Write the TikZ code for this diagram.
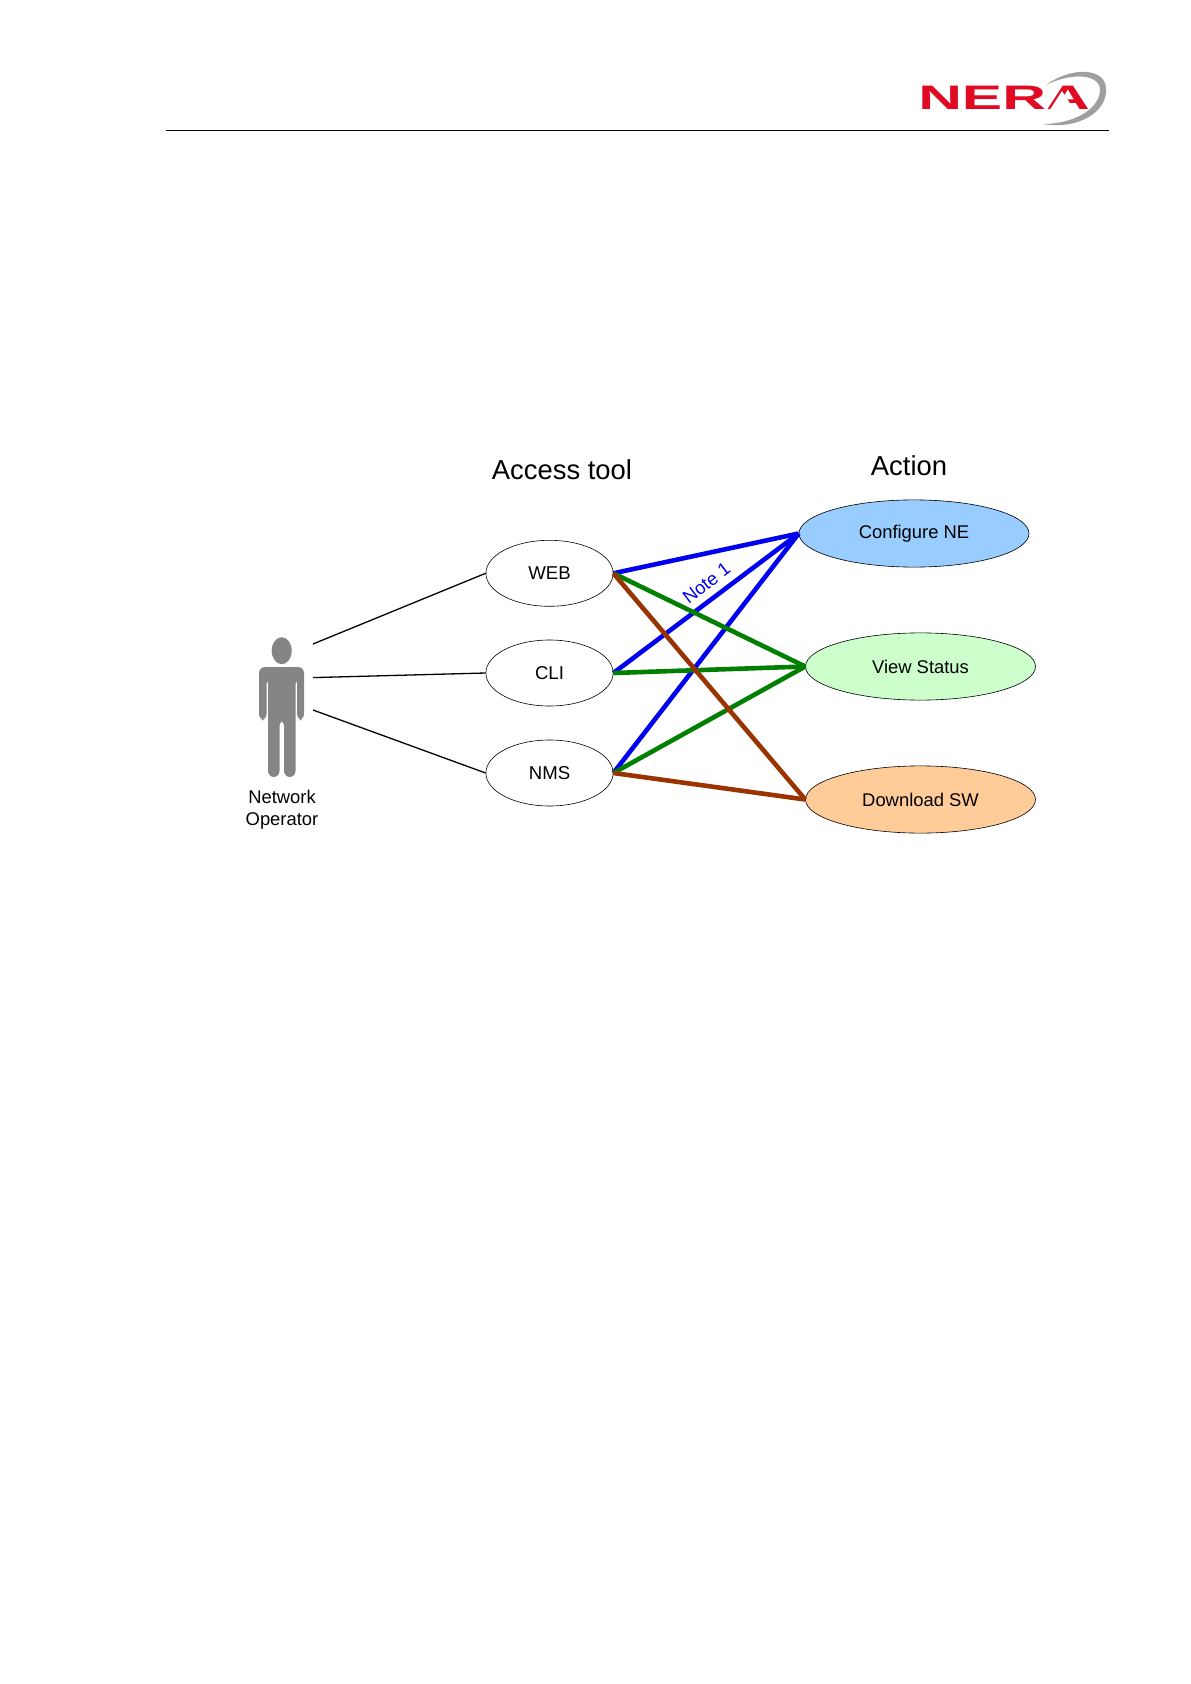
\documentclass[tikz,border=0pt]{standalone}
\usepackage{fontspec}
\setmainfont{Liberation Sans}
\usetikzlibrary{shapes.geometric}
\definecolor{cblue}{HTML}{0000F0}
\definecolor{cgreen}{HTML}{007F00}
\definecolor{cbrown}{HTML}{993300}
\definecolor{figgray}{HTML}{858585}
\definecolor{logored}{HTML}{E00A22}
\tikzset{
  tool/.style={ellipse,draw=black,line width=0.3pt,fill=white,minimum width=63.6pt,minimum height=33pt,inner sep=0pt,font=\fontsize{9.3}{11}\selectfont},
  act/.style={ellipse,draw=black,line width=0.3pt,minimum width=115pt,minimum height=33.6pt,inner sep=0pt,font=\fontsize{9.2}{11}\selectfont},
  heading/.style={font=\fontsize{13.7}{16}\selectfont,inner sep=0pt},
  plain/.style={draw=black,line width=0.65pt},
  thickblue/.style={draw=cblue,line width=2.3pt},
  thickgreen/.style={draw=cgreen,line width=2.3pt},
  thickbrown/.style={draw=cbrown,line width=2.3pt},
}
\begin{document}
\begin{tikzpicture}[x=0.5pt,y=-0.5pt]
\useasboundingbox[fill=white] (0,0) rectangle (1190,1684);
% header
\coordinate (hl) at (166,130.5);
\coordinate (hr) at (1109,130.5);
\draw[black,line width=0.4pt] (hl) -- (hr);
% logo
\fill[gray!75] (1043,124) .. controls (1078,130) and (1108,112) .. (1106,88)
  .. controls (1105,68) and (1072,66) .. (1046,85)
  .. controls (1072,72) and (1100,74) .. (1100,90)
  .. controls (1100,108) and (1075,124) .. (1043,124) -- cycle;
\node[inner sep=0pt,text=logored,font=\bfseries\fontsize{17}{18}\selectfont] (logo) at (1004,98) {\scalebox{1.78}[1]{NERA}};
\fill[white] (1049,111) -- (1075,111) -- (1062,91) -- cycle;
% person
\fill[figgray] (281.7,650.7) ellipse [x radius=10,y radius=13.5];
\fill[figgray,rounded corners=3pt] (259,667) -- (304,667) -- (304,720) -- (297,720) -- (297,678) -- (295.5,678) -- (295.5,777) -- (284,777) -- (284,720) -- (279.5,720) -- (279.5,777) -- (268,777) -- (268,678) -- (266.5,678) -- (266.5,720) -- (259,720) -- cycle;
\node[inner sep=0pt,align=center,font=\fontsize{9.2}{10.8}\selectfont] (oper) at (282,809.5) {Network\\Operator};
\coordinate (p1) at (313,644);
\coordinate (p2) at (313,677.6);
\coordinate (p3) at (313,710);
% nodes
\node[tool] (web) at (549.5,573.3) {WEB};
\node[tool] (cli) at (549.5,673) {CLI};
\node[tool] (nms) at (549.5,773) {NMS};
\node[act,fill={rgb,255:red,153;green,204;blue,255}] (cfg) at (914,533.5) {Configure NE};
\node[act,fill={rgb,255:red,204;green,255;blue,204}] (view) at (920.5,666.5) {View Status};
\node[act,fill={rgb,255:red,255;green,204;blue,153}] (dl) at (920.5,799.5) {Download SW};
\node[heading] (h1) at (562,470) {Access tool};
\node[heading] (h2) at (909,466) {Action};
% connectors
\draw[plain] (p1) -- (web.west);
\draw[plain] (p2) -- (cli.west);
\draw[plain] (p3) -- (nms.west);
\draw[thickblue] (web.east) -- (cfg.west);
\draw[thickblue] (cli.east) -- (cfg.west);
\draw[thickblue] (nms.east) -- (cfg.west);
\draw[thickgreen] (web.east) -- (view.west);
\draw[thickgreen] (cli.east) -- (view.west);
\draw[thickgreen] (nms.east) -- (view.west);
\draw[thickbrown] (web.east) -- (dl.west);
\draw[thickbrown] (nms.east) -- (dl.west);
\node[inner sep=0pt,text=cblue,rotate=37.5,font=\fontsize{9.2}{11}\selectfont] (note) at (706.5,583) {Note 1};
\end{tikzpicture}
\end{document}
